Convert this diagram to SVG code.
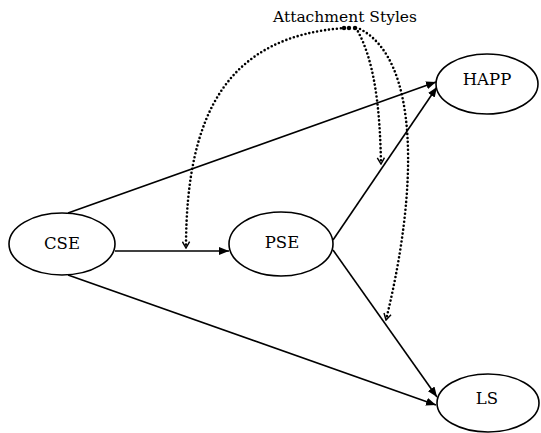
<svg xmlns="http://www.w3.org/2000/svg" width="541" height="433" viewBox="0 0 541 433">
<style>
.node ellipse{fill:#fff;stroke:#000;stroke-width:1.6}
text{font-family:"DejaVu Serif","Liberation Serif",serif;fill:#000}
.lbl{font-size:16.5px;text-anchor:middle;dominant-baseline:central}
.edge{fill:none;stroke:#000;stroke-width:1.6;marker-end:url(#arr)}
.dot{fill:none;stroke:#000;stroke-width:2.6;stroke-dasharray:0 4;stroke-linecap:round;marker-end:url(#chev)}
</style>
<defs>
<marker id="arr" viewBox="0 0 10 8" refX="10" refY="4" markerWidth="10" markerHeight="8" markerUnits="userSpaceOnUse" orient="auto">
<path d="M0,0 L10,4 L0,8 Z" fill="#000"/>
</marker>
<marker id="chev" viewBox="0 0 10 10" refX="9" refY="5" markerWidth="9" markerHeight="9" markerUnits="userSpaceOnUse" orient="auto">
<path d="M2,1 L9,5 L2,9" fill="none" stroke="#000" stroke-width="1.6"/>
</marker>
</defs>
<g id="connectors">
<path class="edge" d="M68,213 L436,82"/>
<path class="edge" d="M333,240 L437,87"/>
<path class="edge" d="M115,251 L229,251"/>
<path class="edge" d="M68,275 L436,405"/>
<path class="edge" d="M333,250 L437,397"/>
<path class="dot" d="M345,28 C230,36 186,110 186,248"/>
<path class="dot" d="M356,28 C375,60 380,110 381,164"/>
<path class="dot" d="M360,29 C420,60 418,190 386,320"/>
</g>
<g id="attach"><text x="345" y="17" style="font-size:15.5px" text-anchor="middle" dominant-baseline="central">Attachment Styles</text>
<circle cx="344" cy="28" r="2.2" fill="#000"/><circle cx="349" cy="28" r="2.2" fill="#000"/><circle cx="355" cy="28" r="2.2" fill="#000"/></g>
<g id="CSE" class="node"><ellipse cx="62" cy="244" rx="53" ry="31"/><text class="lbl" x="62" y="243">CSE</text></g>
<g id="PSE" class="node"><ellipse cx="281" cy="244" rx="52" ry="32"/><text class="lbl" x="282" y="242">PSE</text></g>
<g id="HAPP" class="node"><ellipse cx="487" cy="84" rx="51" ry="30"/><text class="lbl" x="487" y="79">HAPP</text></g>
<g id="LS" class="node"><ellipse cx="488" cy="403" rx="51" ry="29"/><text class="lbl" x="487" y="398">LS</text></g>
</svg>
